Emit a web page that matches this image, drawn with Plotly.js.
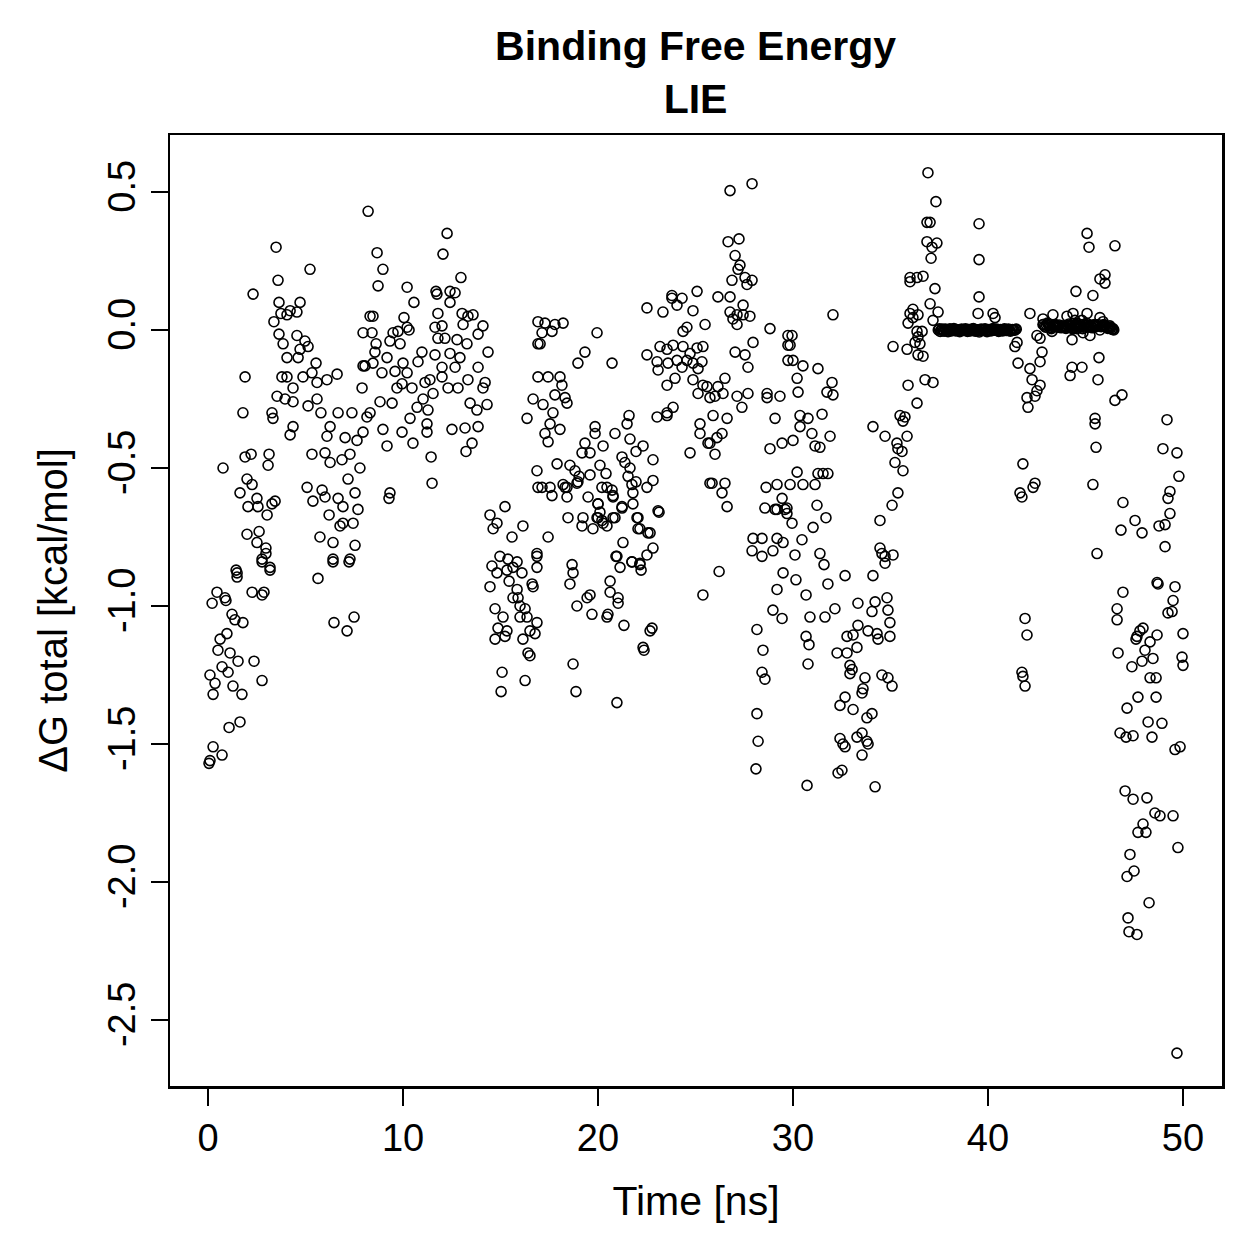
<!DOCTYPE html>
<html>
<head>
<meta charset="utf-8">
<script src="https://cdn.plot.ly/plotly-3.0.1.min.js"></script>
<style>html,body{margin:0;padding:0;background:#fff;}#chart{width:1259px;height:1259px;}</style>
</head>
<body>
<div id="chart"></div>
<script>
// [time (ns), dG total (kcal/mol)], grouped by region
const pts_0_3_low = [[1.49,-0.88],[1.49,-0.895],[2.77,-0.84],[3.18,-0.87],[5.64,-0.90],[6.41,-0.84],[7.23,-0.84],[0.46,-0.95],[0.87,-0.97],[0.21,-0.99],[0.92,-0.98],[2.26,-0.95],[2.77,-0.96],[2.87,-0.95],[1.23,-1.03],[1.38,-1.05],[1.79,-1.06],[6.46,-1.06],[7.13,-1.09],[7.49,-1.04],[0.97,-1.10],[0.62,-1.12],[0.51,-1.16],[1.13,-1.17],[1.54,-1.20],[2.36,-1.20],[0.72,-1.22],[1.03,-1.24],[0.10,-1.25],[0.36,-1.28],[1.28,-1.29],[1.74,-1.32],[0.26,-1.32],[2.77,-1.27],[1.64,-1.42],[1.08,-1.44],[0.26,-1.51],[0.72,-1.54],[0.05,-1.57],[0.10,-1.56]];
const pts_0_8 = [[8.21,0.43],[3.49,0.30],[5.23,0.22],[3.59,0.18],[2.31,0.13],[3.64,0.10],[4.72,0.10],[4.21,0.07],[4.56,0.065],[3.74,0.06],[3.38,0.03],[4.05,0.055],[8.31,0.05],[3.64,-0.015],[4.56,-0.02],[7.95,-0.01],[3.85,-0.05],[4.97,-0.04],[5.13,-0.06],[4.72,-0.07],[4.05,-0.10],[4.62,-0.10],[5.54,-0.12],[7.95,-0.13],[1.90,-0.17],[3.79,-0.17],[4.05,-0.17],[4.87,-0.17],[5.33,-0.155],[6.62,-0.16],[6.10,-0.18],[5.59,-0.19],[4.36,-0.21],[7.90,-0.21],[3.54,-0.24],[3.95,-0.25],[4.36,-0.26],[5.59,-0.25],[5.13,-0.275],[1.79,-0.30],[3.28,-0.30],[3.33,-0.32],[5.79,-0.30],[6.67,-0.30],[7.38,-0.30],[8.15,-0.315],[6.26,-0.35],[4.36,-0.35],[4.21,-0.38],[6.10,-0.385],[7.03,-0.39],[7.64,-0.40],[7.95,-0.37],[0.77,-0.50],[1.90,-0.46],[2.21,-0.45],[3.13,-0.45],[3.08,-0.49],[5.33,-0.45],[6.00,-0.445],[6.26,-0.48],[6.87,-0.47],[7.28,-0.45],[7.79,-0.50],[7.18,-0.54],[2.00,-0.54],[2.26,-0.56],[1.64,-0.59],[2.51,-0.61],[3.44,-0.62],[3.28,-0.63],[2.05,-0.64],[2.56,-0.64],[3.03,-0.67],[5.08,-0.57],[5.85,-0.58],[6.00,-0.605],[5.38,-0.62],[6.67,-0.61],[6.92,-0.64],[7.54,-0.59],[7.69,-0.65],[6.21,-0.67],[6.92,-0.70],[6.77,-0.71],[7.44,-0.70],[2.00,-0.74],[2.62,-0.73],[2.51,-0.77],[2.97,-0.79],[2.97,-0.81],[2.77,-0.83],[5.74,-0.75],[6.41,-0.77],[7.54,-0.78],[6.41,-0.83],[7.28,-0.83],[1.44,-0.87],[3.18,-0.86]];
const pts_8_17 = [[12.26,0.35],[8.67,0.28],[12.05,0.275],[8.97,0.22],[12.97,0.19],[8.72,0.16],[10.21,0.155],[11.69,0.14],[11.74,0.13],[12.41,0.14],[12.67,0.135],[10.56,0.10],[12.41,0.10],[8.46,0.05],[11.79,0.06],[10.05,0.045],[13.03,0.06],[13.33,0.05],[13.59,0.055],[8.41,-0.01],[9.49,-0.01],[9.74,-0.005],[10.31,0.0],[10.21,0.01],[11.64,0.01],[12.0,0.015],[13.08,0.02],[14.1,0.015],[13.85,-0.015],[8.62,-0.05],[9.33,-0.04],[9.85,-0.05],[11.79,-0.03],[12.15,-0.03],[12.77,-0.035],[13.28,-0.05],[8.56,-0.08],[9.18,-0.10],[10.97,-0.08],[11.64,-0.09],[12.41,-0.085],[12.92,-0.10],[14.36,-0.08],[8.05,-0.13],[8.46,-0.12],[10.0,-0.12],[10.77,-0.115],[12.0,-0.135],[12.67,-0.135],[13.85,-0.135],[8.92,-0.155],[9.59,-0.15],[10.21,-0.155],[11.38,-0.18],[12.0,-0.17],[13.33,-0.18],[14.21,-0.19],[9.69,-0.21],[9.95,-0.195],[10.46,-0.21],[11.13,-0.19],[12.31,-0.21],[12.82,-0.21],[14.1,-0.21],[11.54,-0.23],[11.03,-0.25],[8.82,-0.26],[9.44,-0.265],[10.72,-0.28],[11.28,-0.29],[13.44,-0.265],[13.79,-0.29],[14.31,-0.27],[8.31,-0.30],[10.36,-0.32],[11.23,-0.34],[13.85,-0.35],[8.97,-0.36],[9.95,-0.37],[11.23,-0.37],[12.51,-0.36],[13.18,-0.355],[9.18,-0.42],[10.51,-0.41],[13.54,-0.41],[13.23,-0.44],[11.44,-0.46],[11.49,-0.555],[9.33,-0.59],[9.28,-0.61],[16.36,-0.32],[16.67,-0.25],[16.92,-0.17],[16.92,-0.05],[16.92,0.03],[16.87,-0.51],[16.92,-0.57],[15.23,-0.64],[14.46,-0.67],[14.82,-0.70],[14.62,-0.72],[16.15,-0.71],[15.59,-0.75],[16.87,-0.81]];
const pts_14_23 = [[17.44,-0.75],[14.97,-0.82],[15.38,-0.83],[15.85,-0.84],[16.87,-0.82],[16.87,-0.86],[14.56,-0.855],[14.82,-0.88],[15.33,-0.87],[15.64,-0.86],[16.10,-0.88],[18.67,-0.85],[18.72,-0.88],[18.56,-0.92],[14.46,-0.93],[15.44,-0.91],[16.62,-0.92],[16.67,-0.93],[15.85,-0.94],[15.64,-0.97],[15.9,-0.97],[16.0,-1.0],[16.26,-1.01],[14.72,-1.01],[15.13,-1.04],[16.0,-1.04],[16.36,-1.04],[16.87,-1.06],[14.87,-1.08],[15.33,-1.09],[16.51,-1.09],[16.77,-1.10],[14.72,-1.12],[15.23,-1.11],[16.15,-1.12],[16.41,-1.17],[16.51,-1.18],[15.08,-1.24],[16.26,-1.27],[18.72,-1.21],[15.03,-1.31],[18.87,-1.31],[20.97,-1.35],[17.13,-0.57],[17.54,-0.57],[17.64,-0.60],[18.41,-0.57],[18.41,-0.605],[18.97,-0.55],[19.49,-0.605],[20.0,-0.63],[20.2,-0.57],[20.72,-0.58],[20.77,-0.605],[21.23,-0.645],[21.74,-0.56],[21.79,-0.59],[21.79,-0.63],[22.51,-0.57],[18.46,-0.68],[19.23,-0.68],[19.18,-0.71],[19.74,-0.72],[20.0,-0.68],[20.26,-0.70],[20.77,-0.68],[22.05,-0.68],[22.15,-0.72],[22.67,-0.735],[23.13,-0.66],[21.28,-0.77],[22.82,-0.79],[22.51,-0.815],[20.97,-0.82],[21.13,-0.86],[21.74,-0.84],[22.15,-0.85],[22.21,-0.87],[20.62,-0.91],[20.62,-0.95],[21.03,-0.97],[21.03,-0.99],[19.59,-0.96],[19.44,-0.97],[18.92,-1.0],[19.69,-1.03],[20.46,-1.04],[20.51,-1.03],[21.33,-1.07],[22.77,-1.08],[22.67,-1.09],[22.31,-1.15],[22.36,-1.16]];
const pts_17_26 = [[17.28,0.025],[17.79,0.02],[18.21,0.025],[17.13,-0.01],[17.64,-0.005],[17.03,-0.05],[19.95,-0.01],[19.33,-0.08],[18.97,-0.12],[20.72,-0.12],[17.44,-0.17],[18.05,-0.17],[18.15,-0.20],[17.79,-0.235],[18.31,-0.245],[18.41,-0.265],[17.18,-0.27],[17.69,-0.30],[18.05,-0.36],[17.54,-0.34],[17.28,-0.375],[17.44,-0.405],[19.85,-0.35],[19.85,-0.375],[20.87,-0.375],[21.49,-0.34],[21.59,-0.31],[19.33,-0.41],[19.18,-0.445],[19.59,-0.445],[20.26,-0.42],[21.64,-0.395],[22.31,-0.42],[21.95,-0.44],[22.82,-0.47],[21.23,-0.46],[21.38,-0.48],[21.64,-0.50],[17.9,-0.485],[18.56,-0.49],[18.82,-0.51],[20.1,-0.49],[20.41,-0.52],[19.59,-0.525],[18.92,-0.555],[19.03,-0.53],[18.21,-0.56],[18.31,-0.57],[20.46,-0.57],[20.77,-0.60],[21.54,-0.53],[21.95,-0.55],[22.82,-0.545],[20.0,-0.63],[20.1,-0.66],[19.95,-0.68],[20.2,-0.69],[20.46,-0.71],[20.87,-0.68],[21.23,-0.64],[22.0,-0.68],[22.05,-0.72],[22.56,-0.735],[23.08,-0.655],[22.15,-0.845],[21.74,-0.84],[20.92,-0.82],[25.38,-0.96],[22.51,0.08],[23.33,0.065],[24.05,0.09],[24.87,0.07],[25.49,0.02],[24.56,0.01],[24.36,-0.005],[22.51,-0.09],[23.18,-0.06],[23.54,-0.07],[23.85,-0.055],[24.36,-0.06],[24.72,-0.085],[25.08,-0.065],[25.38,-0.06],[23.03,-0.115],[23.08,-0.145],[23.59,-0.12],[24.05,-0.11],[24.31,-0.135],[24.56,-0.11],[24.87,-0.12],[25.13,-0.14],[25.33,-0.115],[23.54,-0.20],[23.95,-0.175],[24.87,-0.18],[25.13,-0.23],[25.38,-0.20],[23.03,-0.315],[23.54,-0.31],[23.85,-0.28],[25.23,-0.34],[25.23,-0.375],[25.64,-0.41],[24.72,-0.445],[25.74,-0.555]];
const pts_23_30 = [[26.77,0.505],[27.9,0.53],[26.67,0.32],[27.23,0.33],[27.03,0.27],[27.28,0.235],[27.18,0.22],[26.87,0.18],[27.54,0.19],[27.9,0.18],[27.64,0.165],[25.08,0.14],[23.79,0.125],[23.79,0.115],[24.31,0.115],[26.15,0.12],[26.77,0.12],[27.44,0.09],[26.77,0.065],[27.13,0.055],[27.44,0.055],[27.79,0.05],[26.92,0.04],[27.13,0.02],[28.82,0.005],[29.74,-0.02],[27.95,-0.045],[27.03,-0.08],[27.54,-0.09],[27.69,-0.135],[29.74,-0.055],[29.74,-0.11],[26.51,-0.175],[26.15,-0.205],[26.41,-0.23],[26.0,-0.24],[25.59,-0.205],[25.74,-0.245],[27.13,-0.24],[27.38,-0.28],[27.69,-0.23],[28.67,-0.23],[28.67,-0.245],[29.33,-0.24],[23.54,-0.30],[25.9,-0.31],[26.62,-0.32],[26.36,-0.375],[26.1,-0.39],[25.74,-0.41],[26.0,-0.45],[29.08,-0.32],[29.44,-0.41],[28.82,-0.43],[25.85,-0.555],[26.51,-0.555],[26.36,-0.59],[26.62,-0.64],[28.62,-0.57],[29.18,-0.56],[29.44,-0.61],[28.56,-0.645],[29.18,-0.65],[29.59,-0.65],[27.95,-0.755],[28.41,-0.755],[27.9,-0.80],[28.41,-0.82],[28.97,-0.80],[29.18,-0.755],[29.49,-0.77],[26.21,-0.875],[29.18,-0.94],[29.49,-0.88]];
const pts_28_35 = [[32.05,0.055],[35.13,-0.06],[29.95,-0.02],[29.85,-0.055],[30.0,-0.11],[30.51,-0.13],[31.28,-0.14],[30.21,-0.175],[30.26,-0.225],[32.0,-0.19],[32.05,-0.235],[31.74,-0.225],[30.36,-0.31],[30.77,-0.32],[31.49,-0.305],[30.36,-0.35],[30.97,-0.375],[31.13,-0.42],[31.38,-0.425],[31.9,-0.385],[30.0,-0.40],[30.21,-0.515],[31.28,-0.52],[31.54,-0.52],[31.79,-0.52],[30.51,-0.56],[31.13,-0.56],[29.85,-0.56],[29.08,-0.65],[29.69,-0.645],[29.69,-0.665],[29.95,-0.70],[31.23,-0.635],[31.69,-0.68],[31.03,-0.715],[30.46,-0.76],[30.1,-0.815],[31.38,-0.81],[31.59,-0.85],[31.79,-0.92],[32.67,-0.89],[34.1,-0.89],[30.15,-0.905],[30.67,-0.96],[28.97,-1.015],[29.44,-1.045],[30.87,-1.04],[31.64,-1.04],[32.15,-1.01],[28.15,-1.085],[28.46,-1.16],[28.41,-1.24],[28.56,-1.265],[30.67,-1.11],[30.82,-1.14],[30.77,-1.21],[32.26,-1.17],[32.77,-1.17],[33.33,-0.99],[34.21,-0.985],[34.82,-0.97],[34.05,-1.02],[34.87,-1.015],[34.97,-1.06],[33.33,-1.07],[33.85,-1.09],[34.31,-1.10],[34.36,-1.12],[34.97,-1.11],[32.77,-1.11],[33.08,-1.105],[33.28,-1.15],[32.92,-1.215],[33.03,-1.23],[32.92,-1.245],[33.69,-1.26],[34.56,-1.25],[34.87,-1.26],[35.08,-1.29],[32.67,-1.33],[32.41,-1.36],[33.54,-1.315],[33.59,-1.30],[33.08,-1.375],[33.79,-1.405],[34.05,-1.39],[32.41,-1.48],[32.67,-1.51],[32.56,-1.50],[33.28,-1.475],[33.54,-1.46],[33.79,-1.49],[33.85,-1.50],[33.54,-1.54],[32.31,-1.605],[32.51,-1.595],[30.72,-1.65],[34.21,-1.655],[28.15,-1.39],[28.21,-1.49],[28.1,-1.59]];
const pts_34_36 = [[36.0,0.06],[36.15,0.045],[35.9,0.025],[36.36,-0.005],[35.85,-0.07],[36.41,-0.09],[35.9,-0.20],[36.36,-0.265],[35.49,-0.31],[35.74,-0.315],[35.64,-0.33],[34.1,-0.35],[34.72,-0.385],[35.85,-0.385],[35.33,-0.41],[35.38,-0.43],[35.59,-0.44],[35.23,-0.48],[35.64,-0.51],[35.38,-0.59],[35.08,-0.635],[34.46,-0.69],[34.46,-0.79],[34.56,-0.81],[34.72,-0.82],[35.13,-0.815],[34.72,-0.845]];
const pts_36_42 = [[36.92,0.57],[37.33,0.465],[36.87,0.39],[37.03,0.39],[39.54,0.385],[36.87,0.32],[37.38,0.315],[37.13,0.30],[37.08,0.26],[39.54,0.255],[36.0,0.19],[36.36,0.19],[36.67,0.195],[36.0,0.175],[37.28,0.15],[37.03,0.095],[37.44,0.065],[36.15,0.075],[36.41,0.055],[37.18,0.035],[39.54,0.12],[39.49,0.06],[40.26,0.06],[40.36,0.045],[42.15,0.06],[36.62,-0.005],[36.41,-0.025],[36.26,-0.045],[36.51,-0.05],[36.67,-0.095],[41.49,-0.045],[41.38,-0.06],[41.54,-0.12],[42.15,-0.14],[42.26,-0.18],[42.51,-0.22],[42.0,-0.245],[42.05,-0.28],[42.41,-0.24],[36.77,-0.18],[37.18,-0.19],[41.79,-0.485],[41.64,-0.59],[41.74,-0.605],[42.31,-0.57],[42.41,-0.555]];
const pts_plateau1 = [[37.45,0.0],[37.5,0.004],[37.55,-0.005],[37.6,0.001],[37.65,0.003],[37.7,-0.002],[37.75,-0.004],[37.8,0.003],[37.85,0.002],[37.9,0.0],[37.95,-0.006],[38.0,0.001],[38.05,0.004],[38.1,-0.003],[38.15,-0.002],[38.2,0.002],[38.25,0.005],[38.3,0.0],[38.35,-0.003],[38.4,0.002],[38.45,0.001],[38.5,-0.002],[38.55,-0.006],[38.6,0.001],[38.65,0.003],[38.7,0.0],[38.75,-0.002],[38.8,0.002],[38.85,0.004],[38.9,-0.001],[38.95,-0.005],[39.0,0.002],[39.05,0.002],[39.1,-0.003],[39.15,-0.001],[39.2,0.003],[39.25,0.005],[39.3,-0.002],[39.35,-0.004],[39.4,0.001],[39.45,0.001],[39.5,-0.003],[39.55,-0.007],[39.6,0.0],[39.65,0.003],[39.7,0.001],[39.75,-0.002],[39.8,0.002],[39.85,0.004],[39.9,-0.002],[39.95,-0.006],[40.0,0.001],[40.05,0.002],[40.1,-0.001],[40.15,-0.003],[40.2,0.002],[40.25,0.005],[40.3,0.0],[40.35,-0.001],[40.4,0.002],[40.45,0.003],[40.5,-0.002],[40.55,-0.005],[40.6,0.001],[40.65,0.002],[40.7,-0.001],[40.75,-0.003],[40.8,0.002],[40.85,0.004],[40.9,0.0],[40.95,-0.002],[41.0,0.001],[41.05,0.003],[41.1,-0.002],[41.15,-0.004],[41.2,0.001],[41.25,0.002],[41.3,0.0],[41.35,-0.001],[41.4,0.002],[41.45,0.003]];
const pts_plateau2 = [[42.85,0.02],[42.9,0.014],[42.95,0.01],[43.0,0.018],[43.05,0.025],[43.1,0.02],[43.15,0.015],[43.2,0.008],[43.25,0.005],[43.35,0.012],[43.4,0.016],[43.45,0.02],[43.5,0.016],[43.55,0.012],[43.6,0.015],[43.65,0.018],[43.7,0.012],[43.75,0.008],[43.8,0.011],[43.85,0.015],[43.9,0.012],[44.0,0.006],[44.05,0.01],[44.1,0.016],[44.15,0.022],[44.2,0.018],[44.25,0.014],[44.3,0.008],[44.35,0.004],[44.4,0.01],[44.45,0.016],[44.5,0.02],[44.55,0.024],[44.6,0.016],[44.65,0.01],[44.7,0.015],[44.75,0.02],[44.8,0.012],[44.85,0.005],[44.9,0.01],[44.95,0.015],[45.0,0.02],[45.05,0.025],[45.1,0.018],[45.15,0.01],[45.2,0.014],[45.25,0.018],[45.3,0.012],[45.35,0.008],[45.4,0.014],[45.45,0.02],[45.5,0.016],[45.55,0.012],[45.6,0.016],[45.65,0.02],[45.8,0.012],[45.85,0.015],[45.9,0.018],[45.95,0.02],[46.0,0.016],[46.05,0.012],[46.1,0.009],[46.15,0.006],[46.2,0.01],[46.25,0.015],[46.3,0.008],[46.35,0.003],[46.4,0.002],[46.45,0.0]];
const pts_42_48 = [[45.08,0.35],[45.18,0.30],[46.51,0.305],[45.74,0.185],[46.0,0.20],[46.0,0.17],[44.51,0.14],[45.38,0.125],[42.82,0.04],[43.33,0.055],[42.82,0.02],[43.18,0.01],[43.28,-0.005],[44.05,0.05],[44.36,0.06],[44.46,0.035],[45.08,0.06],[44.82,0.035],[45.74,0.045],[45.9,0.03],[46.26,0.01],[46.41,0.005],[43.59,0.01],[43.95,0.01],[44.56,0.005],[44.87,-0.01],[45.23,-0.02],[45.74,0.0],[44.31,-0.035],[42.51,-0.02],[42.67,-0.03],[42.77,-0.08],[42.67,-0.115],[42.67,-0.20],[44.31,-0.135],[44.21,-0.165],[44.82,-0.135],[45.69,-0.10],[45.64,-0.18],[46.51,-0.255],[46.87,-0.235],[45.49,-0.32],[45.49,-0.34],[45.54,-0.425],[45.38,-0.56],[46.92,-0.625],[46.82,-0.725],[47.54,-0.69],[45.59,-0.81],[46.92,-0.95],[46.62,-1.01],[46.62,-1.05],[41.9,-1.045],[42.0,-1.105],[46.67,-1.17],[47.38,-1.22],[47.64,-1.11],[41.74,-1.24],[41.79,-1.255],[41.9,-1.29]];
const pts_46_50 = [[49.18,-0.325],[48.97,-0.43],[49.69,-0.445],[49.79,-0.53],[49.33,-0.585],[49.23,-0.61],[47.9,-0.735],[49.33,-0.665],[49.08,-0.705],[48.77,-0.71],[49.08,-0.785],[48.67,-0.915],[48.72,-0.92],[49.59,-0.93],[49.49,-0.98],[49.23,-1.025],[49.44,-1.02],[47.95,-1.08],[47.79,-1.09],[48.67,-1.105],[47.59,-1.12],[48.31,-1.13],[50.0,-1.10],[48.05,-1.16],[48.46,-1.19],[47.9,-1.20],[49.95,-1.185],[50.0,-1.215],[48.31,-1.26],[48.62,-1.26],[47.69,-1.33],[48.62,-1.33],[47.13,-1.37],[48.21,-1.42],[48.92,-1.425],[48.41,-1.475],[46.77,-1.46],[47.08,-1.475],[47.44,-1.47],[49.59,-1.52],[49.85,-1.51],[47.03,-1.67],[47.44,-1.70],[48.15,-1.695],[48.56,-1.75],[48.82,-1.76],[49.49,-1.76],[47.95,-1.79],[47.69,-1.82],[48.1,-1.82],[49.74,-1.875],[47.28,-1.90],[47.49,-1.96],[47.13,-1.98],[48.26,-2.075],[47.18,-2.13],[47.23,-2.18],[47.64,-2.19],[49.69,-2.62]];

const xTickVals = [0, 10, 20, 30, 40, 50];
const xTickText = ['0', '10', '20', '30', '40', '50'];
const yTickVals = [-2.5, -2.0, -1.5, -1.0, -0.5, 0.0, 0.5];
const yTickText = ['-2.5', '-2.0', '-1.5', '-1.0', '-0.5', '0.0', '0.5'];

const allPts = [].concat(pts_0_3_low, pts_0_8, pts_8_17, pts_14_23, pts_17_26, pts_23_30,
  pts_28_35, pts_34_36, pts_36_42, pts_plateau1, pts_plateau2, pts_42_48, pts_46_50)
  .slice().sort((a, b) => a[0] - b[0]);

const FONT = 'Liberation Sans, Arial, Helvetica, sans-serif';

const trace = {
  type: 'scatter',
  mode: 'markers',
  x: allPts.map(p => p[0]),
  y: allPts.map(p => p[1]),
  marker: {symbol: 'circle-open', size: 10, color: '#000', line: {width: 1.6, color: '#000'}},
  hoverinfo: 'x+y'
};

const layout = {
  width: 1259, height: 1259,
  paper_bgcolor: '#fff', plot_bgcolor: '#fff',
  margin: {l: 170, r: 37, t: 135, b: 173, pad: 0},
  showlegend: false,
  font: {family: FONT, size: 38, color: '#000'},
  title: {
    text: '<b>Binding Free Energy</b><br><b>LIE</b>',
    font: {family: FONT, size: 41, color: '#000'},
    x: 0.5525, xanchor: 'center', xref: 'container',
    y: 1 - 60 / 1259, yanchor: 'middle', yref: 'container'
  },
  xaxis: {
    range: [-1.95, 52.0], autorange: false,
    tickmode: 'array', tickvals: xTickVals, ticktext: xTickText,
    ticks: 'outside', ticklen: 17, tickwidth: 2.2, tickcolor: '#000',
    showline: true, linewidth: 2.5, linecolor: '#000', mirror: true,
    showgrid: false, zeroline: false,
    tickfont: {family: FONT, size: 38, color: '#000'},
    title: {text: 'Time [ns]', font: {family: FONT, size: 41, color: '#000'}, standoff: 28}
  },
  yaxis: {
    range: [-2.739, 0.7065], autorange: false,
    tickmode: 'array', tickvals: yTickVals, ticktext: yTickText, tickangle: -90,
    ticks: 'outside', ticklen: 17, tickwidth: 2.2, tickcolor: '#000',
    showline: true, linewidth: 2.5, linecolor: '#000', mirror: true,
    showgrid: false, zeroline: false,
    tickfont: {family: FONT, size: 38, color: '#000'},
    title: {text: 'ΔG total [kcal/mol]', font: {family: FONT, size: 40, color: '#000'}, standoff: 22}
  }
};

Plotly.newPlot('chart', [trace], layout, {displayModeBar: false, staticPlot: true});
</script>
</body>
</html>
